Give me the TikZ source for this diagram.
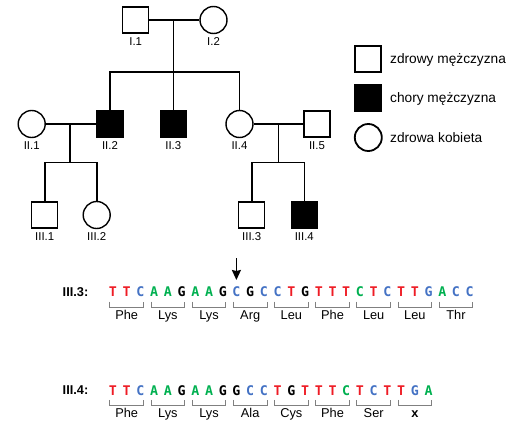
\documentclass[tikz,border=0pt]{standalone}
\usepackage{fontspec}
\setmainfont{Liberation Sans}
\newfontfamily\monob{DejaVu Sans Mono}
\usetikzlibrary{arrows.meta}
\definecolor{nr}{HTML}{EE1C25}
\definecolor{nb}{HTML}{4472C4}
\definecolor{ng}{HTML}{00B050}
\definecolor{nk}{HTML}{000000}
\definecolor{brk}{HTML}{808080}
\begin{document}
\begin{tikzpicture}[x=1pt,y=-1pt,
  male/.style={draw, line width=1.4pt, minimum size=26pt, inner sep=0pt, fill=white},
  affected/.style={male, fill=black},
  female/.style={draw, circle, line width=1.4pt, minimum size=27pt, inner sep=0pt, fill=white},
  lgmale/.style={draw, line width=1.8pt, minimum size=26pt, inner sep=0pt},
  lgaff/.style={lgmale, fill=black},
  lgfem/.style={draw, circle, line width=1.8pt, minimum size=27pt, inner sep=0pt},
  lab/.style={font=\fontsize{11.4}{12}\selectfont, inner sep=0pt},
  lgtext/.style={font=\fontsize{13.7}{15}\selectfont, inner sep=0pt, anchor=west},
  pline/.style={line width=1.6pt},
  nuc/.style={font=\monob\bfseries\fontsize{13.3}{14}\selectfont, inner sep=0pt},
  aa/.style={font=\fontsize{12.8}{13}\selectfont, inner sep=0pt, anchor=base},
  rowlab/.style={font=\bfseries\fontsize{12.8}{13}\selectfont, inner sep=0pt},
  brack/.style={draw=brk, line width=0.9pt}
]
\useasboundingbox (0,0) rectangle (515,431);

% ---------- pedigree ----------
\node[male]   (I1) at (135.7,20) {};
\node[female] (I2) at (213.5,20) {};
\node[lab] (lI1) at (135.7,41.5) {I.1};
\node[lab] (lI2) at (213.5,41.5) {I.2};

\node[female]   (II1) at (31.7,124) {};
\node[affected] (II2) at (110,124) {};
\node[affected] (II3) at (173.3,124) {};
\node[female]   (II4) at (239.5,124) {};
\node[male]     (II5) at (317,124) {};
\node[lab] at (31.7,146) {II.1};
\node[lab] at (110,146) {II.2};
\node[lab] at (173.3,146) {II.3};
\node[lab] at (239.5,146) {II.4};
\node[lab] at (317,146) {II.5};

\node[male]     (III1) at (44.7,215) {};
\node[female]   (III2) at (96.7,215) {};
\node[male]     (III3) at (251.7,215) {};
\node[affected] (III4) at (304.3,215) {};
\node[lab] at (44.7,236.5) {III.1};
\node[lab] at (96.7,236.5) {III.2};
\node[lab] at (251.7,236.5) {III.3};
\node[lab] at (304.3,236.5) {III.4};

\coordinate (m1) at (173.3,20);
\coordinate (s1) at (173.3,71.7);
\coordinate (m2) at (70,124);
\coordinate (s2) at (70,162.3);
\coordinate (m3) at (278.3,124);
\coordinate (s3) at (278.3,162.3);

\draw[pline] (I1.east) -- (I2.west);
\draw[pline] (m1) -- (s1);
\draw[pline] (II2.north) |- (s1) -| (II4.north);
\draw[pline] (s1) -- (II3.north);
\draw[pline] (II1.east) -- (II2.west);
\draw[pline] (m2) -- (s2);
\draw[pline] (III1.north) |- (s2) -| (III2.north);
\draw[pline] (II4.east) -- (II5.west);
\draw[pline] (m3) -- (s3);
\draw[pline] (III3.north) |- (s3) -| (III4.north);

% ---------- legend ----------
\node[lgmale] (Lm) at (368.3,59.3) {};
\node[lgaff]  (La) at (368.3,98) {};
\node[lgfem]  (Lf) at (368.3,137.5) {};
\node[lgtext] at (390,60) {zdrowy mężczyzna};
\node[lgtext] at (390,99) {chory mężczyzna};
\node[lgtext] at (390,137.5) {zdrowa kobieta};

% ---------- sequences ----------
\node[rowlab] (r3) at (75.5,292) {III.3:};
\node[rowlab] (r4) at (75.5,390.5) {III.4:};

\foreach \l/\c [count=\i from 0] in {T/nr,T/nr,C/nb,A/ng,A/ng,G/nk,A/ng,A/ng,G/nk,C/nb,G/nk,C/nb,C/nb,T/nr,G/nk,T/nr,T/nr,T/nr,C/ng,T/nr,C/nb,T/nr,T/nr,G/nb,A/ng,C/nb,C/nb}
  \node[nuc, text=\c] (a\i) at ({113+13.72*\i},292) {\l};

\foreach \l/\c [count=\i from 0] in {T/nr,T/nr,C/nb,A/ng,A/ng,G/nk,A/ng,A/ng,G/nk,G/nk,C/nb,C/nb,T/nr,G/nk,T/nr,T/nr,T/nr,C/ng,T/nr,C/nb,T/nr,T/nr,G/nb,A/ng}
  \node[nuc, text=\c] (b\i) at ({113+13.72*\i},390.5) {\l};

\foreach \aa [count=\k from 0] in {Phe,Lys,Lys,Arg,Leu,Phe,Leu,Leu,Thr}{
  \pgfmathsetmacro{\cx}{113+13.72*(3*\k+1)}
  \draw[brack] (\cx-16.8,301.5) -- (\cx-16.8,307) -- (\cx+16.8,307) -- (\cx+16.8,301.5);
  \node[aa] (c\k) at (\cx,319.3) {\aa};
}
\foreach \aa [count=\k from 0] in {Phe,Lys,Lys,Ala,Cys,Phe,Ser,\textbf{x}}{
  \pgfmathsetmacro{\cx}{113+13.72*(3*\k+1)}
  \draw[brack] (\cx-16.8,399.8) -- (\cx-16.8,405.3) -- (\cx+16.8,405.3) -- (\cx+16.8,399.8);
  \node[aa] (d\k) at (\cx,417.3) {\aa};
}

\coordinate (arS) at (236.4,258);
\coordinate (arE) at (236.4,280);
\draw[line width=1.6pt, -{Stealth[length=10pt,width=9pt,inset=1pt]}] (arS) -- (arE);
\end{tikzpicture}
\end{document}
